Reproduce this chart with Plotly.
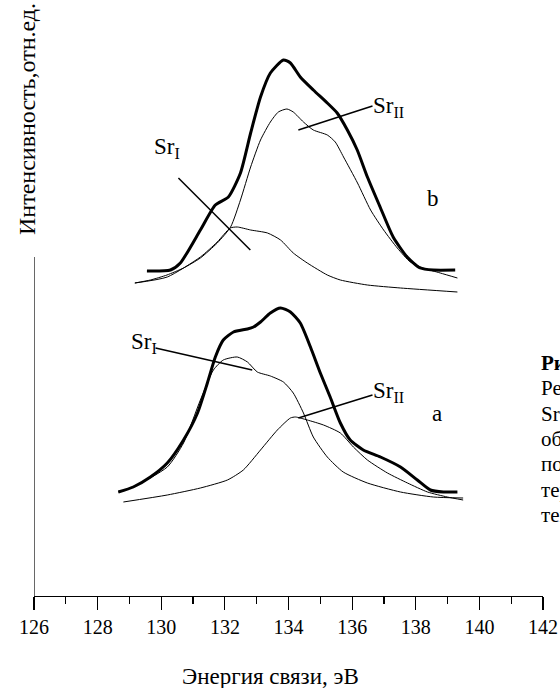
import plotly.graph_objects as go

# ---- data (binding energy, eV ; intensity, rel. units) ----
b_total_E = [129.55,130.29,130.60,131.23,131.70,132.11,132.49,132.81,133.12,133.43,133.84,134.06,134.37,134.78,135.22,135.53,135.85,136.16,136.48,136.88,137.29,137.73,138.14,138.55,139.24]
b_total_I = [3.25,3.26,3.33,3.66,3.91,3.99,4.23,4.63,4.99,5.23,5.36,5.33,5.19,5.06,4.93,4.83,4.66,4.46,4.19,3.89,3.59,3.39,3.28,3.26,3.26]

b_sr2_E = [129.17,129.66,130.18,130.70,131.23,131.76,132.18,132.49,132.81,133.12,133.43,133.68,133.95,134.15,134.47,134.78,135.22,135.47,135.73,136.17,136.58,136.99,137.42,137.83,138.24,138.77,139.31]
b_sr2_I = [3.13,3.16,3.21,3.28,3.38,3.53,3.69,3.96,4.29,4.56,4.74,4.84,4.87,4.84,4.74,4.66,4.61,4.54,4.39,4.13,3.86,3.66,3.48,3.34,3.28,3.23,3.18]

b_sr1_E = [129.17,130.19,131.23,131.76,132.17,132.39,132.81,133.34,133.75,134.15,134.59,135.22,135.63,136.48,137.52,139.31]
b_sr1_I = [3.13,3.19,3.39,3.54,3.68,3.69,3.66,3.63,3.56,3.43,3.33,3.21,3.16,3.11,3.08,3.04]

a_total_E = [128.65,129.12,129.66,130.19,130.70,131.14,131.45,131.70,131.95,132.27,132.71,132.90,133.12,133.43,133.75,134.06,134.37,134.69,135.00,135.31,135.63,135.94,136.35,136.89,137.52,138.05,138.46,138.87,139.31]
a_total_I = [1.04,1.09,1.19,1.33,1.56,1.83,2.13,2.39,2.56,2.64,2.67,2.69,2.74,2.83,2.88,2.84,2.73,2.49,2.23,1.99,1.73,1.56,1.46,1.39,1.29,1.16,1.06,1.04,1.04]

a_sr1_E = [128.65,129.12,130.19,130.70,131.23,131.64,131.95,132.39,132.71,133.02,133.43,133.84,134.15,134.47,134.78,135.22,135.72,136.48,137.52,138.55,139.49]
a_sr1_I = [1.04,1.09,1.29,1.53,1.96,2.26,2.36,2.39,2.34,2.24,2.20,2.14,2.03,1.83,1.59,1.39,1.24,1.13,1.04,0.99,0.98]

a_sr2_E = [128.81,130.19,131.23,132.08,132.58,133.12,133.65,134.06,134.22,134.59,135.10,135.63,136.04,136.48,137.11,137.74,138.37,138.99,139.49]
a_sr2_I = [0.94,1.01,1.08,1.16,1.26,1.46,1.66,1.78,1.79,1.76,1.71,1.63,1.49,1.36,1.23,1.13,1.04,0.99,0.96]

x_ticks = [126,128,130,132,134,136,138,140,142]
x_title = "Энергия связи, эВ"
y_title = "Интенсивность,отн.ед."
caption = ["<b>Рис. 3.</b>", "Результаты", "Sr 3d", "образцов", "после", "термообработки", "температуре"]

FONT = "Liberation Serif, Times New Roman, serif"
fig = go.Figure()

def add(E, I, w):
    fig.add_trace(go.Scatter(x=E, y=I, mode="lines", line=dict(color="black", width=w, shape="spline", smoothing=0.6),
                             showlegend=False, hoverinfo="skip"))

add(b_sr1_E, b_sr1_I, 1)
add(b_sr2_E, b_sr2_I, 1)
add(b_total_E, b_total_I, 3)
add(a_sr1_E, a_sr1_I, 1)
add(a_sr2_E, a_sr2_I, 1)
add(a_total_E, a_total_I, 3)

# pointer lines for labels
pointers = [
    (134.31, 4.66, 136.64, 4.90),
    (130.54, 4.18, 132.80, 3.46),
    (129.82, 2.48, 132.86, 2.26),
    (134.31, 1.78, 136.64, 2.01),
]
for x0, y0, x1, y1 in pointers:
    fig.add_shape(type="line", x0=x0, y0=y0, x1=x1, y1=y1, xref="x", yref="y",
                  line=dict(color="black", width=1.5))

# y axis line (partial)
fig.add_shape(type="line", x0=126, x1=126, y0=0, y1=3.39, xref="x", yref="y",
              line=dict(color="black", width=1.2))

labels = [
    (136.58, 4.89, "Sr<sub>II</sub>"),
    (129.70, 4.48, "Sr<sub>I</sub>"),
    (129.00, 2.53, "Sr<sub>I</sub>"),
    (136.58, 2.04, "Sr<sub>II</sub>"),
]
for x, y, t in labels:
    fig.add_annotation(x=x, y=y, text=t, showarrow=False, xanchor="left", yanchor="middle",
                       font=dict(family=FONT, size=23, color="black"))

fig.add_annotation(x=138.55, y=3.98, text="b", showarrow=False, xanchor="center", yanchor="middle",
                   font=dict(family=FONT, size=23, color="black"))
fig.add_annotation(x=138.68, y=1.83, text="a", showarrow=False, xanchor="center", yanchor="middle",
                   font=dict(family=FONT, size=23, color="black"))

# y title
fig.add_annotation(xref="paper", yref="paper", x=(27-34)/509, y=(596-119)/596, text=y_title, textangle=-90,
                   showarrow=False, xanchor="center", yanchor="middle",
                   font=dict(family=FONT, size=24, color="black"))
# x title
fig.add_annotation(xref="paper", yref="paper", x=(270-34)/509, y=-(676-596)/596, text=x_title,
                   showarrow=False, xanchor="center", yanchor="middle",
                   font=dict(family=FONT, size=23, color="black"))

# caption fragment at right edge
for i, line in enumerate(caption):
    ypix = 363 + 25.3 * i
    fig.add_annotation(xref="paper", yref="paper", x=(539-34)/509, y=(596-ypix)/596, text=line,
                       showarrow=False, xanchor="left", yanchor="middle",
                       font=dict(family=FONT, size=21, color="black"))

fig.update_layout(
    width=560, height=688,
    margin=dict(l=34, r=17, t=0, b=92),
    paper_bgcolor="white", plot_bgcolor="white",
    font=dict(family=FONT, color="black"),
    xaxis=dict(range=[126, 142], tickvals=x_ticks, ticktext=[str(v) for v in x_ticks],
               showline=True, linecolor="black", linewidth=1.2, ticks="outside", ticklen=13,
               tickcolor="black", tickwidth=1.2, showgrid=False, zeroline=False, automargin=False,
               tickfont=dict(family=FONT, size=20, color="black"),
               minor=dict(dtick=1, tick0=126, ticks="outside", ticklen=7, tickcolor="black", tickwidth=1.2, showgrid=False)),
    yaxis=dict(range=[0, 5.96], visible=False, showgrid=False, zeroline=False),
)

fig.write_html("out.html", config={"displayModeBar": False, "staticPlot": True},
               post_script="document.body.style.margin='0';document.body.style.overflow='hidden';")
